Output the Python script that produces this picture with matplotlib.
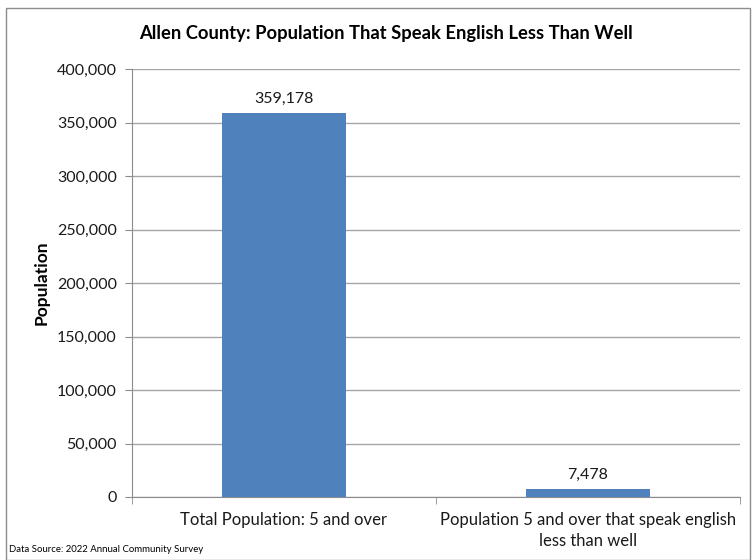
import matplotlib
matplotlib.use("Agg")
import matplotlib.pyplot as plt
from matplotlib.patches import Rectangle
from matplotlib.ticker import FuncFormatter

categories = ["Total Population: 5 and over", "Population 5 and over that speak english\nless than well"]
values = [359178, 7478]
title = "Allen County: Population That Speak English Less Than Well"
ylabel = "Population"
source = "Data Source: 2022 Annual Community Survey"

plt.rcParams['font.family'] = ['Lato', 'DejaVu Sans']

fig = plt.figure(figsize=(7.52, 5.60), dpi=100)
fig.patches.append(Rectangle((6/752, 0), (750-6)/752, 1 - 8/560, transform=fig.transFigure,
                             fill=False, edgecolor="#8c8c8c", linewidth=1.0))
ax = fig.add_axes([132/752, 1 - 497/560, (740-132)/752, (497-69)/560])

x = list(range(len(categories)))
bars = ax.bar(x, values, width=0.405, color="#4f81bd", zorder=3)
ax.set_xlim(-0.5, len(categories) - 0.5)
ax.set_ylim(0, 400000)
ax.set_yticks(range(0, 400001, 50000))
ax.yaxis.set_major_formatter(FuncFormatter(lambda v, p: f"{int(v):,}"))
ax.grid(axis="y", color="#a6a6a6", linewidth=1.0, zorder=0)
ax.set_axisbelow(True)

ax.set_xticks(x)
ax.set_xticklabels(categories, fontsize=12, color="#1a1a1a", linespacing=1.35)
ax.tick_params(axis="x", length=0, pad=11)
ax.set_xticks([-0.5, 0.5, 1.5], minor=True)
ax.tick_params(axis="x", which="minor", length=5, color="#8c8c8c", direction="out")
ax.tick_params(axis="y", length=5, color="#8c8c8c", labelsize=11.5, labelcolor="#1a1a1a", pad=6)

for s in ["top", "right"]:
    ax.spines[s].set_visible(False)
for s in ["left", "bottom"]:
    ax.spines[s].set_color("#8c8c8c")

for b, v in zip(bars, values):
    ax.annotate(f"{v:,}", (b.get_x() + b.get_width() / 2, v), xytext=(0, 5),
                textcoords="offset points", ha="center", va="bottom", fontsize=11.5, color="#1a1a1a")

fig.text(386/752, 1 - 33/560, title, ha="center", va="center", fontsize=13.2, fontweight="bold")
fig.text(42/752, 1 - 283/560, ylabel, ha="center", va="center", rotation=90, fontsize=12.5, fontweight="bold")
fig.text(9/752, 1 - 549/560, source, ha="left", va="center", fontsize=6.9)

fig.savefig("out.png", dpi=100)
